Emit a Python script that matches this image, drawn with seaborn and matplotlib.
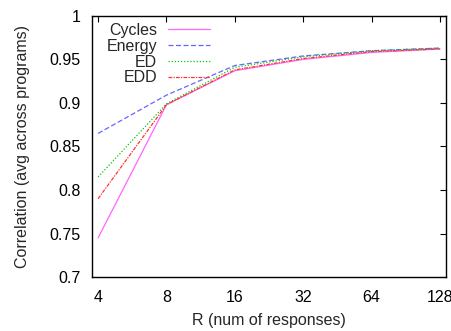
import matplotlib
matplotlib.use("Agg")
import matplotlib.pyplot as plt
import seaborn as sns
import pandas as pd

R = [4, 8, 16, 32, 64, 128]
cycles = [0.745, 0.898, 0.937, 0.950, 0.958, 0.962]
energy = [0.865, 0.909, 0.943, 0.954, 0.960, 0.963]
ed = [0.815, 0.899, 0.941, 0.953, 0.960, 0.963]
edd = [0.790, 0.898, 0.938, 0.951, 0.959, 0.962]
series_names = ["Cycles", "Energy", "ED", "EDD"]
yticks = [0.7, 0.75, 0.8, 0.85, 0.9, 0.95, 1]
ytick_labels = ["0.7", "0.75", "0.8", "0.85", "0.9", "0.95", "1"]

sns.set_style("white")
plt.rcParams["font.family"] = ["Liberation Sans", "DejaVu Sans"]

rows = []
for name, vals in zip(series_names, [cycles, energy, ed, edd]):
    for r, v in zip(R, vals):
        rows.append({"R": r, "val": v, "series": name})
df = pd.DataFrame(rows)

palette = {"Cycles": "#ff66ff", "Energy": "#6666ff", "ED": "#00cc00", "EDD": "#ff3333"}
dashes = {"Cycles": "", "Energy": (4, 2), "ED": (1, 1.5), "EDD": (3, 1, 1, 1)}

fs = 11.5
fig, ax = plt.subplots(figsize=(4.51, 3.31), dpi=100)
fig.subplots_adjust(left=0.204, right=0.989, top=0.952, bottom=0.163)
sns.lineplot(data=df, x="R", y="val", hue="series", style="series",
             palette=palette, dashes=dashes, linewidth=0.9, ax=ax,
             hue_order=series_names, style_order=series_names)
ax.set_xscale("log", base=2)
ax.set_xlim(3.76, 136)
ax.set_ylim(0.7, 1.0)
ax.set_xticks(R)
ax.set_xticklabels([str(r) for r in R])
ax.minorticks_off()
ax.set_yticks(yticks)
ax.set_yticklabels(ytick_labels)
ax.tick_params(direction="in", length=4, width=0.8, top=True, right=True,
               labelsize=fs, colors="black")
ax.tick_params(axis="x", pad=9)
ax.tick_params(axis="y", pad=8)
for s in ax.spines.values():
    s.set_color("black")
    s.set_linewidth(1.0)
ax.set_xlabel("R (num of responses)", fontsize=fs, labelpad=6)
ax.set_ylabel("Correlation (avg across programs)", fontsize=fs, labelpad=14)
leg = ax.legend(loc="upper left", markerfirst=False, frameon=False, fontsize=fs,
                handlelength=2.6, labelspacing=0.05, borderaxespad=0.2,
                handletextpad=0.7, borderpad=0.25,
                bbox_to_anchor=(0.02, 1.0))
fig.savefig("out.png", dpi=100)
